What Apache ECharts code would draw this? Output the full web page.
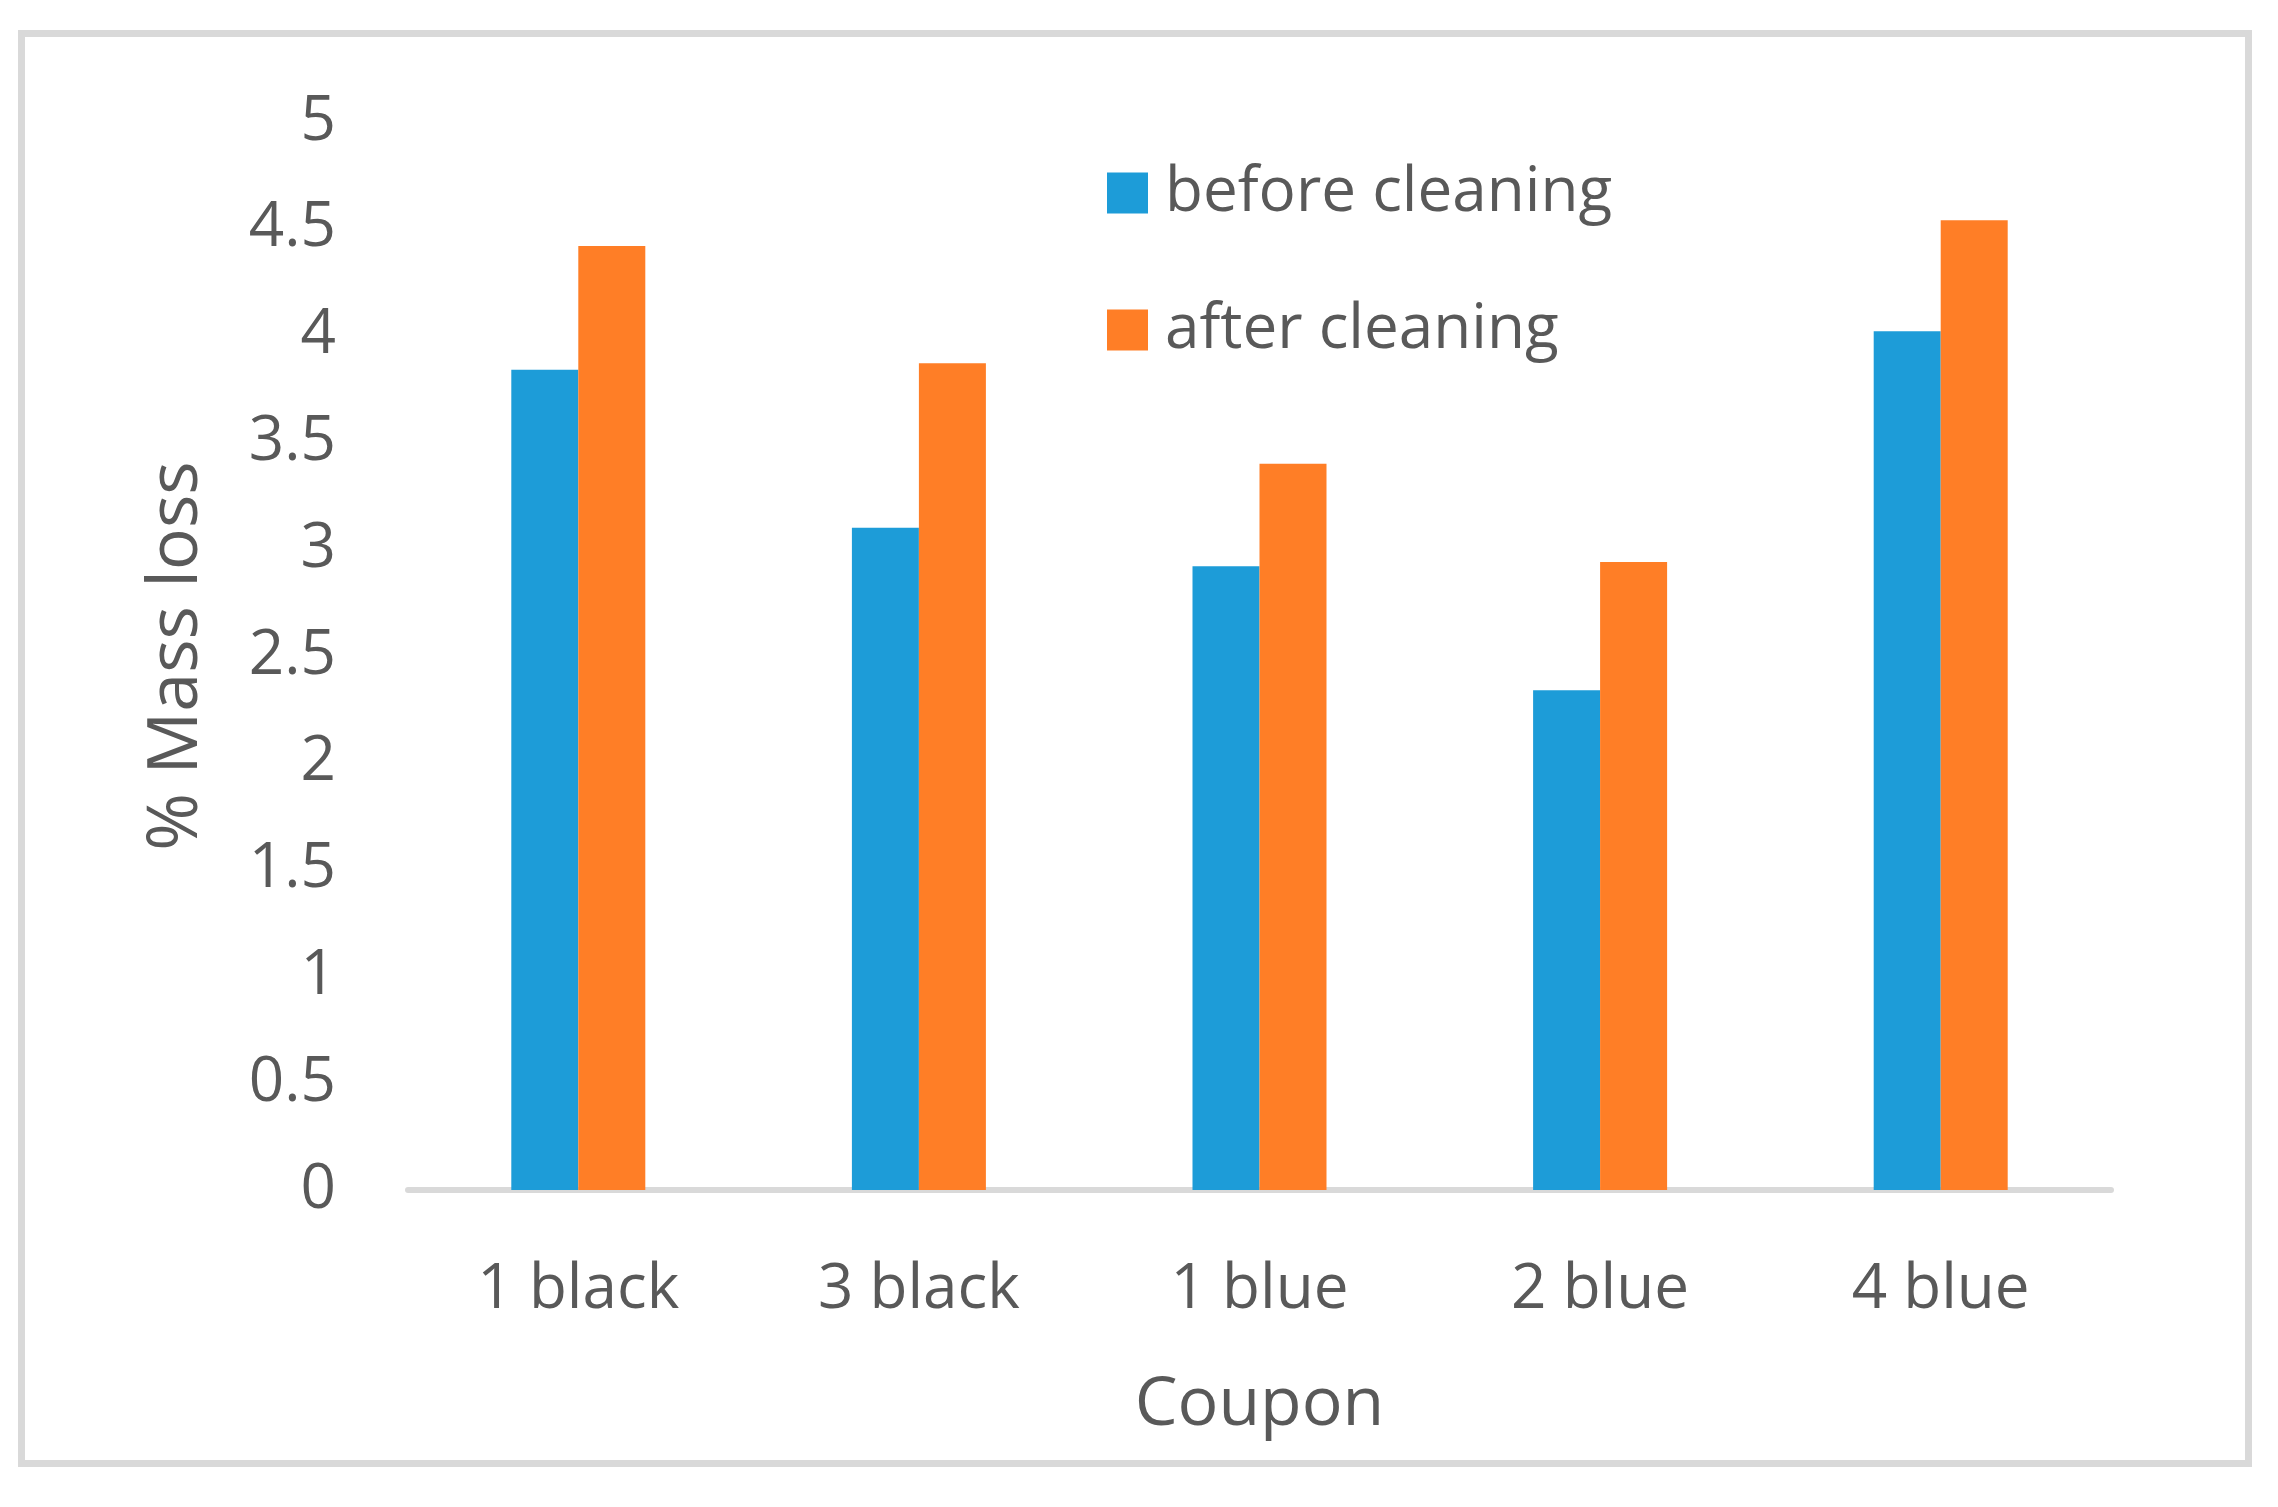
<!DOCTYPE html>
<html>
<head>
<meta charset="utf-8">
<title>% Mass loss by coupon</title>
<script src="https://cdn.jsdelivr.net/npm/echarts@6/dist/echarts.min.js"></script>
<style>
  html, body { margin:0; padding:0; background:#fff; }
  #chart { width:2278px; height:1507px; }
</style>
</head>
<body>
<div id="chart"></div>
<script>
// categories + values
const coupons = ['1 black', '3 black', '1 blue', '2 blue', '4 blue']
const beforeCleaning = [3.84, 3.10, 2.92, 2.34, 4.02]
const afterCleaning  = [4.42, 3.87, 3.40, 2.94, 4.54]

const TXT = '#595959'
const FONT = '"Open Sans", "Noto Sans", sans-serif'

const chart = echarts.init(document.getElementById('chart'), null, { renderer: 'canvas' })

chart.setOption({
  backgroundColor: '#fff',
  animation: false,
  textStyle: { fontFamily: FONT, color: TXT },
  // grey frame round the whole chart
  graphic: [{
    type: 'rect',
    shape: { x: 21.5, y: 33.5, width: 2227, height: 1430 },
    style: { fill: 'none', stroke: '#d9d9d9', lineWidth: 7 },
    silent: true
  }],
  grid: { left: 408, right: 167, top: 122, bottom: 317 },
  legend: {
    orient: 'vertical',
    left: 1107,
    top: 162,
    padding: 0,
    itemWidth: 41,
    itemHeight: 41,
    itemGap: 75,
    icon: 'rect',
    textStyle: { fontSize: 62, color: TXT, fontFamily: FONT, lineHeight: 62, padding: [0, 0, 0, 12] },
    data: ['before cleaning', 'after cleaning']
  },
  xAxis: {
    type: 'category',
    data: coupons,
    name: 'Coupon',
    nameLocation: 'middle',
    nameGap: 182,
    nameTextStyle: { fontSize: 68, color: TXT, fontFamily: FONT },
    axisLine: { lineStyle: { color: '#d9d9d9', width: 6 } },
    axisTick: { show: false },
    axisLabel: { fontSize: 62, color: TXT, margin: 69, fontFamily: FONT }
  },
  yAxis: {
    type: 'value',
    min: 0,
    max: 5,
    interval: 0.5,
    name: '% Mass loss',
    nameLocation: 'middle',
    nameRotate: 90,
    nameGap: 196,
    nameTextStyle: { fontSize: 70, color: TXT, fontFamily: FONT },
    axisLine: { show: false },
    axisTick: { show: false },
    splitLine: { show: false },
    axisLabel: { fontSize: 62, color: TXT, margin: 72, fontFamily: FONT }
  },
  series: [
    {
      name: 'before cleaning',
      type: 'bar',
      data: beforeCleaning,
      barWidth: 67,
      barGap: '0%',
      itemStyle: { color: '#1D9CD8' }
    },
    {
      name: 'after cleaning',
      type: 'bar',
      data: afterCleaning,
      barWidth: 67,
      barGap: '0%',
      itemStyle: { color: '#FF7E26' }
    }
  ]
})
</script>
</body>
</html>
